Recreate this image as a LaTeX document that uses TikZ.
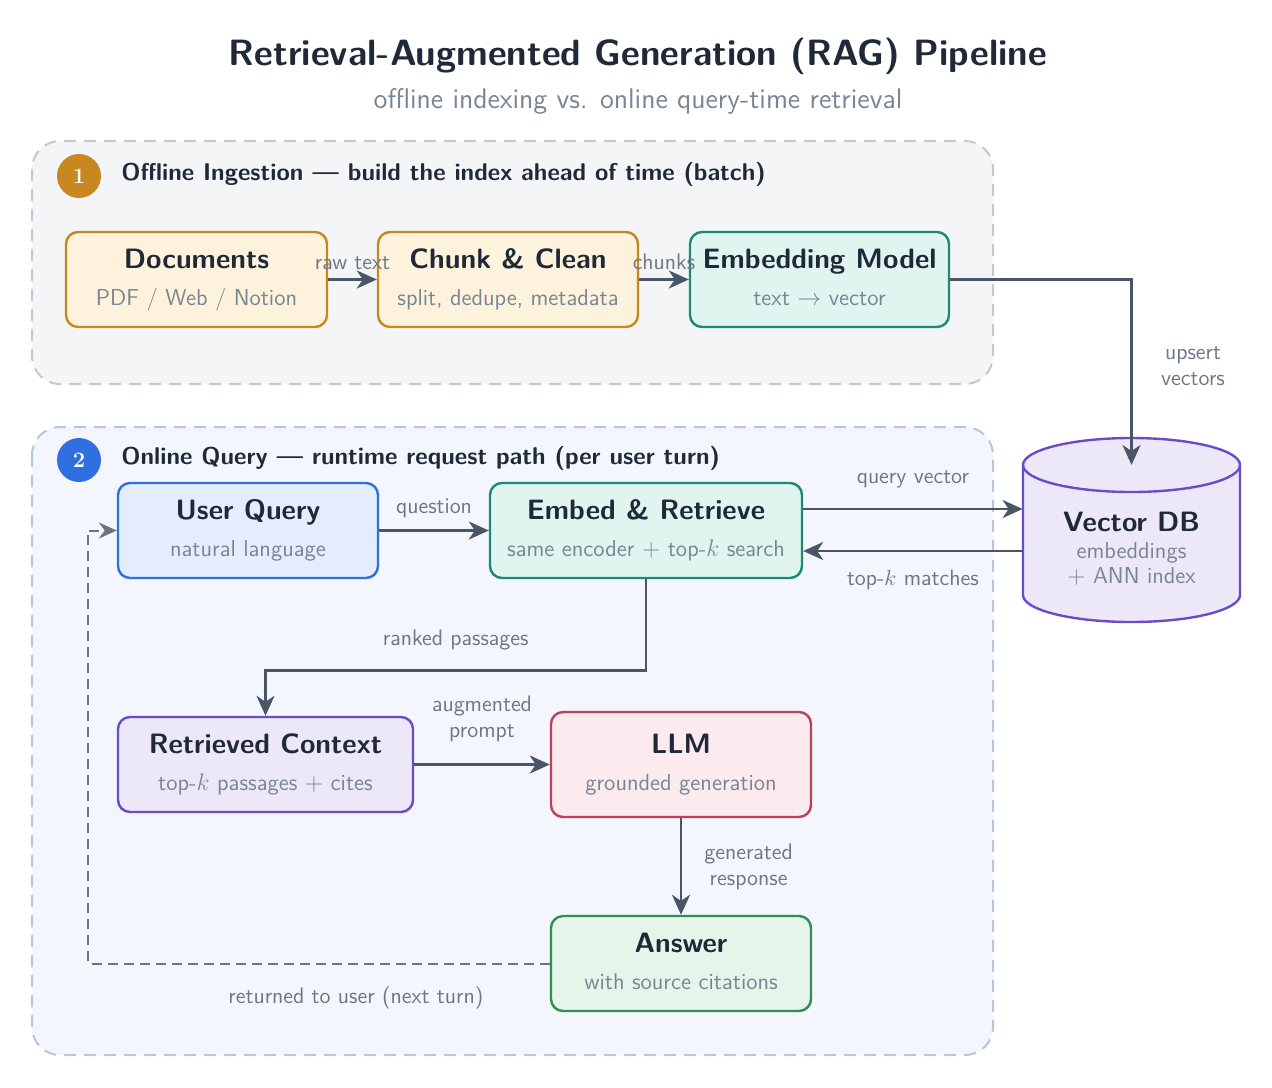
\documentclass[tikz,border=0pt]{standalone}
\usetikzlibrary{arrows.meta,calc}
\renewcommand{\familydefault}{\sfdefault}
\definecolor{ink}{HTML}{1F2937}
\definecolor{subgray}{HTML}{7A8594}
\definecolor{lblgray}{HTML}{6E7785}
\definecolor{arrowc}{HTML}{4A5568}
\definecolor{loopc}{HTML}{6B7280}
\definecolor{panelAfill}{HTML}{F4F5F7}
\definecolor{panelAdraw}{HTML}{C3C8D0}
\definecolor{panelBfill}{HTML}{F3F6FC}
\definecolor{panelBdraw}{HTML}{B6C6DE}
\definecolor{amberD}{HTML}{C8871F}
\definecolor{amberF}{HTML}{FDF3DC}
\definecolor{tealD}{HTML}{1B8A70}
\definecolor{tealF}{HTML}{E1F5F0}
\definecolor{blueD}{HTML}{2F6FDF}
\definecolor{blueF}{HTML}{E4EDFB}
\definecolor{purpD}{HTML}{6B4BC9}
\definecolor{purpF}{HTML}{EDE8F8}
\definecolor{redD}{HTML}{C0405A}
\definecolor{redF}{HTML}{FCEBEE}
\definecolor{greenD}{HTML}{2F8F57}
\definecolor{greenF}{HTML}{E6F5EA}
\begin{document}
\begin{tikzpicture}[x=0.5pt,y=-0.5pt,
  panel/.style={line width=1pt, dash pattern=on 6pt off 4pt, rounded corners=14pt},
  box/.style={line width=1.2pt, rounded corners=6pt, inner sep=0pt},
  ttl/.style={text=ink, font=\fontsize{14}{16}\selectfont\bfseries, anchor=base, inner sep=0pt},
  sub/.style={text=subgray, font=\fontsize{11.5}{13.5}\selectfont, anchor=base, inner sep=0pt},
  lbl/.style={text=lblgray, font=\fontsize{11.2}{13}\selectfont, inner sep=1pt, align=center},
  hdr/.style={text=ink, font=\fontsize{12.1}{14}\selectfont\bfseries, anchor=west, inner sep=0pt},
  badge/.style={circle, minimum size=22pt, inner sep=0pt, text=white, font=\fontsize{11}{13}\selectfont\rmfamily\bfseries},
  arr/.style={draw=arrowc, line width=1.3pt, -{Stealth[length=10pt,width=9pt,inset=3pt]}},
  looparr/.style={draw=loopc, line width=1pt, dash pattern=on 5pt off 3pt, -{Stealth[length=9pt,width=8pt,inset=3pt]}}
]
\useasboundingbox (0,0) rectangle (1272,1087);

% title
\node[text=ink, font=\fontsize{18.3}{21}\selectfont\bfseries] (title) at (638,56) {Retrieval-Augmented Generation (RAG) Pipeline};
\node[text=subgray, font=\fontsize{14.2}{16}\selectfont] (subtitle) at (638,101) {offline indexing vs. online query-time retrieval};

% panels
\draw[panel, draw=panelAdraw, fill=panelAfill] (32,141) rectangle (993,384);
\draw[panel, draw=panelBdraw, fill=panelBfill] (32,427) rectangle (993,1055);

\node[badge, fill=amberD] (b1) at (79,176) {1};
\node[hdr] (h1) at (121,174) {Offline Ingestion --- build the index ahead of time (batch)};
\node[badge, fill=blueD] (b2) at (79,460) {2};
\node[hdr] (h2) at (121,458) {Online Query --- runtime request path (per user turn)};

% offline boxes
\node[box, draw=amberD, fill=amberF, minimum width=130.5pt, minimum height=47.5pt] (doc) at (196.5,279.5) {};
\node[ttl] (docT) at ($(doc.center)+(0,-11)$) {Documents};
\node[sub] (docS) at ($(doc.center)+(0,26)$) {PDF / Web / Notion};

\node[box, draw=amberD, fill=amberF, minimum width=130pt, minimum height=47.5pt] (chunk) at (508,279.5) {};
\node[ttl] (chunkT) at ($(chunk.center)+(0,-11)$) {Chunk \& Clean};
\node[sub] (chunkS) at ($(chunk.center)+(0,26)$) {split, dedupe, metadata};

\node[box, draw=tealD, fill=tealF, minimum width=129.5pt, minimum height=47.5pt] (emb) at (819.5,279.5) {};
\node[ttl] (embT) at ($(emb.center)+(0,-11)$) {Embedding Model};
\node[sub] (embS) at ($(emb.center)+(0,26)$) {text $\to$ vector};

% online boxes
\node[box, draw=blueD, fill=blueF, minimum width=130pt, minimum height=47.5pt] (uq) at (248,530.5) {};
\node[ttl] (uqT) at ($(uq.center)+(0,-11)$) {User Query};
\node[sub] (uqS) at ($(uq.center)+(0,26)$) {natural language};

\node[box, draw=tealD, fill=tealF, minimum width=156pt, minimum height=47.5pt] (er) at (646,530.5) {};
\node[ttl] (erT) at ($(er.center)+(0,-11)$) {Embed \& Retrieve};
\node[sub] (erS) at ($(er.center)+(0,26)$) {same encoder $+$ top-$k$ search};

\node[box, draw=purpD, fill=purpF, minimum width=147.5pt, minimum height=47.5pt] (rc) at (265.5,764.5) {};
\node[ttl] (rcT) at ($(rc.center)+(0,-11)$) {Retrieved Context};
\node[sub] (rcS) at ($(rc.center)+(0,26)$) {top-$k$ passages $+$ cites};

\node[box, draw=redD, fill=redF, minimum width=130pt, minimum height=52.5pt] (llm) at (681,764.5) {};
\node[ttl] (llmT) at ($(llm.center)+(0,-11)$) {LLM};
\node[sub] (llmS) at ($(llm.center)+(0,26)$) {grounded generation};

\node[box, draw=greenD, fill=greenF, minimum width=130pt, minimum height=47.5pt] (ans) at (681,963.5) {};
\node[ttl] (ansT) at ($(ans.center)+(0,-11)$) {Answer};
\node[sub] (ansS) at ($(ans.center)+(0,26)$) {with source citations};

% vector DB cylinder
\node[minimum width=108.5pt, minimum height=92pt, inner sep=0pt] (vdb) at (1131.5,530) {};
\draw[line width=1.2pt, draw=purpD, fill=purpF]
  (1023,465) -- (1023,595) arc (180:0:108.5 and 27) -- (1240,465) arc (0:-180:108.5 and 27) -- cycle;
\draw[line width=1.2pt, draw=purpD] (1023,465) arc (180:0:108.5 and 27);
\coordinate (vdbtop) at (1131.5,465);
\node[ttl] (vdbT) at (1131.5,531) {Vector DB};
\node[sub] (vdbS1) at (1131.5,558) {embeddings};
\node[sub] (vdbS2) at (1131.5,583) {$+$ ANN index};

% offline arrows
\draw[arr] (doc.east) -- node[lbl, above=3pt] {raw text} (chunk.west);
\draw[arr] (chunk.east) -- node[lbl, above=3pt] {chunks} (emb.west);
\draw[arr] (emb.east) -| (vdbtop);
\node[lbl] (upl) at (1193,366) {upsert\\vectors};

% online arrows
\draw[arr] (uq.east) -- node[lbl, above=4.5pt] {question} (er.west);
\draw[arr] ([yshift=10.75pt]er.east) -- node[lbl, above=9pt] {query vector} ([yshift=10.75pt]er.east -| vdb.west);
\draw[arr] ([yshift=-10.25pt]er.east -| vdb.west) -- node[lbl, below=8pt] {top-$k$ matches} ([yshift=-10.25pt]er.east);
\draw[arr] (er.south) -- ++(0,91) -| node[lbl, pos=0.25, above=8.5pt] {ranked passages} (rc.north);
\draw[arr] (rc.east) -- node[lbl, above=9.5pt] {augmented\\prompt} (llm.west);
\draw[arr] (llm.south) -- node[lbl, right=10pt] {generated\\response} (ans.north);

% return loop
\coordinate (loopc) at (88,530.5);
\draw[looparr] (ans.west) -| node[lbl, pos=0.21, below=10pt] {returned to user (next turn)} (loopc) -- (uq.west);
\end{tikzpicture}
\end{document}
